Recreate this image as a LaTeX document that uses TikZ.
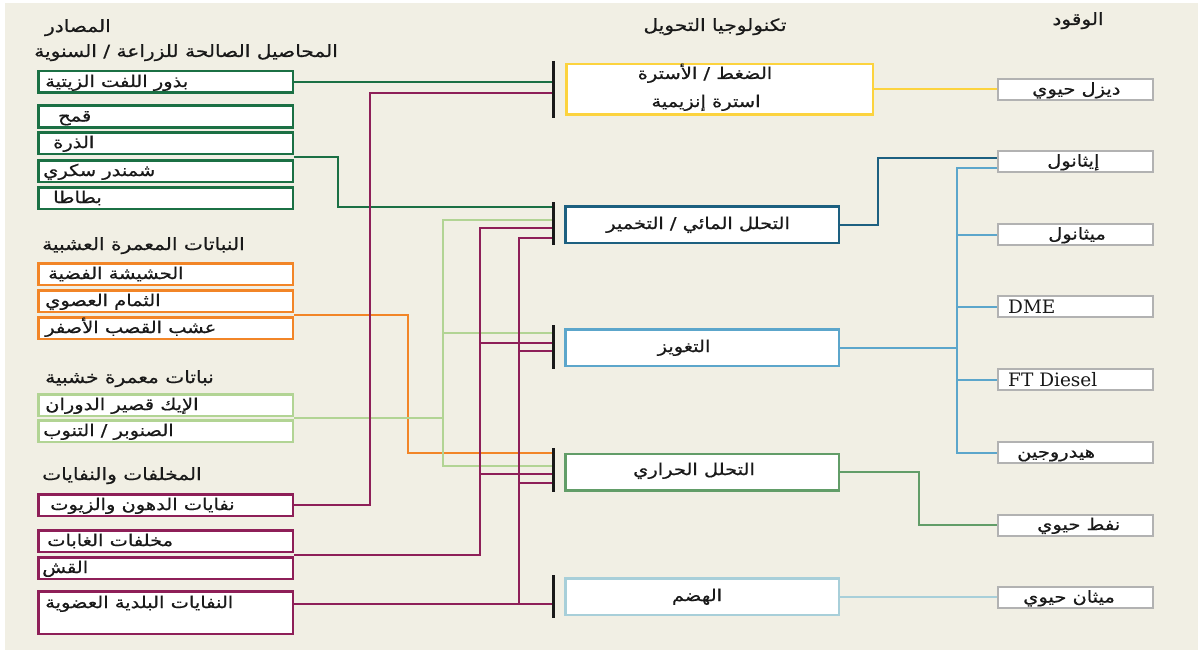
\documentclass[tikz,border=0pt]{standalone}
\usepackage{fontspec}
\usetikzlibrary{calc}
\TeXXeTstate=1
\newfontfamily\arabicfont[Script=Arabic, FakeStretch=1.2, FakeBold=0.6]{DejaVu Sans}
\newfontfamily\latinfont{DejaVu Serif}
\newcommand\artxt[1]{{\arabicfont\beginR #1\endR}}

\definecolor{bgbeige}{RGB}{241,239,228}
\definecolor{inkc}{RGB}{25,25,25}
\definecolor{cgreen}{RGB}{27,112,68}
\definecolor{corange}{RGB}{242,133,39}
\definecolor{clgreen}{RGB}{178,212,148}
\definecolor{cmaroon}{RGB}{142,31,88}
\definecolor{cyellow}{RGB}{252,211,62}
\definecolor{cteal}{RGB}{29,96,128}
\definecolor{cblue}{RGB}{92,166,203}
\definecolor{cmidgreen}{RGB}{98,157,104}
\definecolor{cpale}{RGB}{168,207,217}
\definecolor{cgray}{RGB}{178,178,178}

\begin{document}
\begin{tikzpicture}[x=1pt,y=-1pt,
  srcbox/.style={draw, line width=2.5pt, fill=white, inner sep=0pt,
    minimum width=254.5pt, minimum height=21.5pt},
  techbox/.style={draw, line width=2.5pt, fill=white, inner sep=0pt,
    minimum width=273.5pt, minimum height=36.5pt},
  fuelbox/.style={draw=cgray, line width=2pt, fill=white, inner sep=0pt,
    minimum width=155pt, minimum height=21pt},
  lbl/.style={inner sep=0pt, anchor=base, yshift=-5pt, text=inkc,
    font=\fontsize{16.2}{19}\selectfont},
  head/.style={inner sep=0pt, anchor=base, yshift=-5pt, text=inkc,
    font=\fontsize{16.8}{20}\selectfont},
  latin/.style={inner sep=0pt, text=inkc, font=\latinfont\fontsize{18.5}{21}\selectfont},
  conn/.style={line width=2pt},
  bar/.style={line width=3pt, draw=black!90}]

\useasboundingbox (0,0) rectangle (1198,650);
\fill[white] (0,0) rectangle (1198,650);
\fill[bgbeige] (5,3) rectangle (1198,650);

% ---------- column headers ----------
\node[head, anchor=base east] (hsrc) at (111,27) {\artxt{المصادر}};
\node[head, anchor=base east] (hcrop) at (338,52) {\artxt{المحاصيل الصالحة للزراعة / السنوية}};
\node[head] (htech) at (715,26) {\artxt{تكنولوجيا التحويل}};
\node[head] (hfuel) at (1078,20) {\artxt{الوقود}};
\node[head, anchor=base west] (hherb) at (42,245) {\artxt{النباتات المعمرة العشبية}};
\node[head, anchor=base west] (hwood) at (45,378) {\artxt{نباتات معمرة خشبية}};
\node[head, anchor=base west] (hwaste) at (42,475) {\artxt{المخلفات والنفايات}};

% ---------- source boxes ----------
\node[srcbox, draw=cgreen] (rape) at (165.5,82) {};
\node[lbl, anchor=base west] at (45,82) {\artxt{بذور اللفت الزيتية}};
\node[srcbox, draw=cgreen] (wheat) at (165.5,116.5) {};
\node[lbl, anchor=base west] at (58,116.5) {\artxt{قمح}};
\node[srcbox, draw=cgreen] (corn) at (165.5,143) {};
\node[lbl, anchor=base west] at (53,143) {\artxt{الذرة}};
\node[srcbox, draw=cgreen] (beet) at (165.5,171) {};
\node[lbl, anchor=base west] at (43,171) {\artxt{شمندر سكري}};
\node[srcbox, draw=cgreen] (potato) at (165.5,198) {};
\node[lbl, anchor=base west] at (53,198) {\artxt{بطاطا}};

\node[srcbox, draw=corange] (silver) at (165.5,274) {};
\node[lbl, anchor=base west] at (48,274) {\artxt{الحشيشة الفضية}};
\node[srcbox, draw=corange] (switch) at (165.5,301) {};
\node[lbl, anchor=base west] at (45,301) {\artxt{الثمام العصوي}};
\node[srcbox, draw=corange] (reed) at (165.5,328) {};
\node[lbl, anchor=base west] at (45,328) {\artxt{عشب القصب الأصفر}};

\node[srcbox, draw=clgreen] (willow) at (165.5,405) {};
\node[lbl, anchor=base west] at (45,405) {\artxt{الإيك قصير الدوران}};
\node[srcbox, draw=clgreen] (pine) at (165.5,431) {};
\node[lbl, anchor=base west] at (43,431) {\artxt{الصنوبر / التنوب}};

\node[srcbox, draw=cmaroon] (oilw) at (165.5,505) {};
\node[lbl, anchor=base west] at (50,505) {\artxt{نفايات الدهون والزيوت}};
\node[srcbox, draw=cmaroon] (forest) at (165.5,541) {};
\node[lbl, anchor=base west] at (47,541) {\artxt{مخلفات الغابات}};
\node[srcbox, draw=cmaroon] (straw) at (165.5,568) {};
\node[lbl, anchor=base west] at (42,568) {\artxt{القش}};
\node[srcbox, draw=cmaroon, minimum height=42.5pt] (msw) at (165.5,612.5) {};
\node[lbl, anchor=base west] at (45,603) {\artxt{النفايات البلدية العضوية}};

% ---------- conversion technologies ----------
\node[techbox, draw=cyellow, minimum width=306.5pt, minimum height=50.5pt] (press) at (719.5,89.5) {};
\node[lbl] at (705,74) {\artxt{الضغط / الأسترة}};
\node[lbl] at (706,102) {\artxt{استرة إنزيمية}};
\node[techbox, draw=cteal] (hydro) at (702,224.5) {};
\node[lbl] at (698,224) {\artxt{التحلل المائي / التخمير}};
\node[techbox, draw=cblue] (gasif) at (702,347.5) {};
\node[lbl] at (684,347) {\artxt{التغويز}};
\node[techbox, draw=cmidgreen] (pyro) at (702,472) {};
\node[lbl] at (694,470) {\artxt{التحلل الحراري}};
\node[techbox, draw=cpale] (digest) at (702,596.5) {};
\node[lbl] at (697,596) {\artxt{الهضم}};

% input bars in front of each technology
\coordinate (b1t) at (553,61);  \coordinate (b1b) at (553,118);
\coordinate (b2t) at (553,202); \coordinate (b2b) at (553,245);
\coordinate (b3t) at (553,325); \coordinate (b3b) at (553,369);
\coordinate (b4t) at (553,448); \coordinate (b4b) at (553,492);
\coordinate (b5t) at (553,575); \coordinate (b5b) at (553,618);

% ---------- fuels ----------
\node[fuelbox] (diesel) at (1075.5,89.5) {};
\node[lbl, anchor=base west] at (1032,89.5) {\artxt{ديزل حيوي}};
\node[fuelbox] (eth) at (1075.5,161.5) {};
\node[lbl, anchor=base west] at (1047,161.5) {\artxt{إيثانول}};
\node[fuelbox] (meth) at (1075.5,234.5) {};
\node[lbl, anchor=base west] at (1048,234.5) {\artxt{ميثانول}};
\node[fuelbox] (dme) at (1075.5,306.5) {};
\node[latin, anchor=west] at (1008,306.5) {DME};
\node[fuelbox] (ftd) at (1075.5,379.5) {};
\node[latin, anchor=west] at (1008,379.5) {FT Diesel};
\node[fuelbox] (hyd) at (1075.5,452.5) {};
\node[lbl, anchor=base west] at (1017,452.5) {\artxt{هيدروجين}};
\node[fuelbox] (bio) at (1075.5,525) {};
\node[lbl, anchor=base west] at (1037,525) {\artxt{نفط حيوي}};
\node[fuelbox] (bmeth) at (1075.5,597.5) {};
\node[lbl, anchor=base west] at (1023,597.5) {\artxt{ميثان حيوي}};

% ---------- source connectors ----------
\coordinate (cb) at ($(corn.south east)!.5!(beet.north east)$);
\coordinate (sr) at ($(switch.south east)!.5!(reed.north east)$);
\coordinate (wp) at ($(willow.south east)!.5!(pine.north east)$);
\coordinate (fs) at ($(forest.south east)!.5!(straw.north east)$);
\coordinate (mswout) at ($(msw.east)+(0,-9)$);

% oil crops
\draw[conn, cgreen] (rape.east) -- (rape.east -| b1t);
\draw[conn, cgreen] (cb) -| (338,207) -- (553,207);
% herbaceous perennials
\draw[conn, corange] (sr) -| (408,453) -- (553,453);
% woody perennials
\draw[conn, clgreen] (wp) -- (443,418);
\draw[conn, clgreen] (553,220) -| (443,466) -- (553,466);
\draw[conn, clgreen] (443,333) -- (553,333);
% residues and wastes
\draw[conn, cmaroon] (oilw.east) -| (370,93) -- (553,93);
\draw[conn, cmaroon] (fs) -| (480,228) -- (553,228);
\draw[conn, cmaroon] (480,343) -- (553,343);
\draw[conn, cmaroon] (480,474) -- (553,474);
\draw[conn, cmaroon] (mswout) -- (mswout -| b5t);
\draw[conn, cmaroon] (519,603.5) -- (519,238) -- (553,238);
\draw[conn, cmaroon] (519,351) -- (553,351);
\draw[conn, cmaroon] (519,483) -- (553,483);

% bars drawn over the line ends
\draw[bar] (b1t) -- (b1b);
\draw[bar] (b2t) -- (b2b);
\draw[bar] (b3t) -- (b3b);
\draw[bar] (b4t) -- (b4b);
\draw[bar] (b5t) -- (b5b);

% ---------- fuel connectors ----------
\coordinate (ethA) at ($(eth.west)+(0,-3.5)$);
\coordinate (ethB) at ($(eth.west)+(0,6.5)$);
\draw[conn, cyellow] (press.east) -- (diesel.west);
\draw[conn, cteal] (hydro.east) -| (ethA -| 878,0) -- (ethA);
\draw[conn, cblue] (gasif.east) -- ++(117,0);
\draw[conn, cblue] (ethB) -- (ethB -| 957,0) |- (hyd.west);
\draw[conn, cblue] (meth.west) -- ++(-40,0);
\draw[conn, cblue] (dme.west) -- ++(-40,0);
\draw[conn, cblue] (ftd.west) -- ++(-40,0);
\draw[conn, cmidgreen] (pyro.east) -| (bio.west -| 919,0) -- (bio.west);
\draw[conn, cpale] (digest.east) -- (digest.east -| bmeth.west);
\end{tikzpicture}
\end{document}
